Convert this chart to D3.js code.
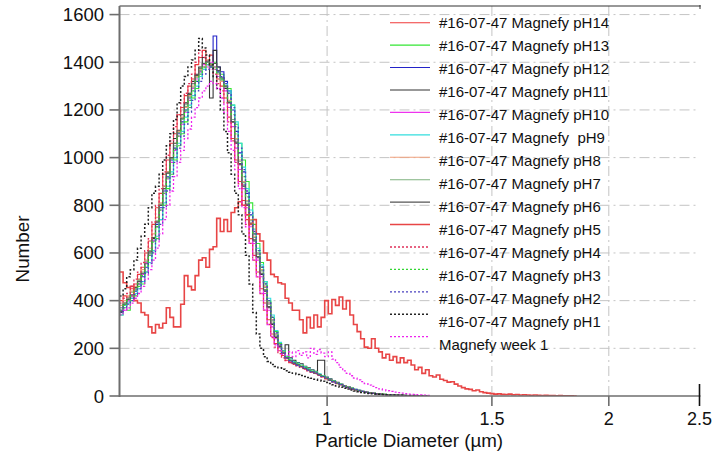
<!DOCTYPE html>
<html><head><meta charset="utf-8">
<script src="https://cdn.jsdelivr.net/npm/d3@7"></script>
<style>body{margin:0;background:#fff} svg{display:block}</style>
</head><body><svg id="c" width="728" height="456"></svg>
<script>
// ---- data ----
const binStart = 0.6;          // µm, first histogram bin edge
const binLogWidth = 0.003847;  // log10 width of each bin
const xTicks = [1, 1.5, 2, 2.5];
const xGrid = [1, 1.5, 2];
const yTicks = [0, 200, 400, 600, 800, 1000, 1200, 1400, 1600];
const seriesNames = ["#16-07-47 Magnefy pH14","#16-07-47 Magnefy pH13","#16-07-47 Magnefy pH12","#16-07-47 Magnefy pH11","#16-07-47 Magnefy pH10","#16-07-47 Magnefy  pH9","#16-07-47 Magnefy pH8","#16-07-47 Magnefy pH7","#16-07-47 Magnefy pH6","#16-07-47 Magnefy pH5","#16-07-47 Magnefy pH4","#16-07-47 Magnefy pH3","#16-07-47 Magnefy pH2","#16-07-47 Magnefy pH1","Magnefy week 1"];

const pH14 = [400,420,415,450,470,510,540,600,650,720, 790,850,930,990,1060,1100,1180,1210,1260,1300, 1330,1390,1420,1450,1400,1430,1380,1330,1300,1250, 1170,1080,990,900,820,740,660,590,520,450, 390,320,260,220,190,170,150,140,135,128, 122,115,108,100,95,88,80,72,66,60, 52,47,41,36,31,26,22,19,16,13, 11,9,8,6,5,5,4,3,3,2, 2,2,1,1,1,0];
const pH13 = [340,370,360,400,420,460,470,520,560,610, 660,740,800,870,930,990,1050,1100,1150,1210, 1250,1290,1340,1370,1390,1380,1400,1360,1350,1300, 1290,1220,1140,1060,990,900,810,720,640,560, 480,400,330,270,220,190,165,150,140,132, 126,118,110,104,98,90,84,76,68,62, 55,49,43,37,32,27,23,19,16,14, 11,9,8,7,6,5,4,3,3,2, 2,2,1,1,1,0];
const pH12 = [360,380,400,410,440,470,500,540,590,650, 720,790,860,920,990,1040,1100,1150,1200,1250, 1290,1320,1360,1380,1400,1390,1510,1380,1360,1320, 1280,1200,1110,1020,940,850,760,680,600,530, 460,390,320,260,215,185,160,148,138,130, 124,116,110,102,96,90,82,75,68,60, 54,48,42,36,31,27,23,19,16,13, 11,9,8,6,5,5,4,3,3,2, 2,1,1,1,1,0];
const pH11 = [350,390,410,420,450,490,510,560,600,660, 730,800,880,940,1000,1080,1110,1180,1230,1270, 1320,1350,1380,1420,1400,1250,1450,1380,1330,1290, 1230,1150,1060,970,880,800,720,650,580,510, 440,370,300,245,205,190,215,160,150,140, 135,125,118,110,104,150,150,80,72,64, 57,50,44,38,33,28,24,20,17,14, 12,10,8,7,6,5,4,3,3,2, 2,2,1,1,1,0];
const pH10 = [370,360,400,420,450,470,510,560,590,650, 710,780,850,910,980,1030,1090,1140,1190,1240, 1290,1330,1360,1390,1380,1400,1380,1340,1330,1280, 1210,1130,1040,950,870,790,710,640,570,500, 430,360,290,240,205,178,158,146,138,130, 124,116,110,102,96,90,82,75,68,60, 54,48,42,36,31,27,23,19,16,13, 11,9,8,6,5,5,4,3,3,2, 2,1,1,1,1,0];
const pH9 = [340,380,390,410,430,450,480,520,560,610, 670,740,810,880,940,1000,1060,1110,1170,1220, 1260,1300,1340,1370,1390,1380,1370,1360,1330,1310, 1280,1220,1150,1060,960,870,780,700,620,550, 480,410,340,275,225,190,168,155,145,138, 130,122,115,108,100,93,86,78,70,63, 56,50,44,38,33,28,24,20,17,14, 12,10,8,7,6,5,4,3,3,2, 2,2,1,1,1,0];
const pH8 = [380,400,420,440,460,490,530,570,620,680, 750,810,880,940,1000,1060,1110,1170,1210,1260, 1300,1340,1370,1380,1410,1390,1370,1350,1320,1300, 1240,1160,1080,990,900,820,740,670,600,530, 460,390,320,260,215,185,162,150,140,133, 126,118,111,104,98,90,83,76,68,61, 55,49,43,37,32,27,23,19,16,13, 11,9,8,7,6,5,4,3,3,2, 2,2,1,1,1,0];
const pH7 = [370,390,410,435,450,485,520,565,610,665, 735,805,870,935,995,1050,1105,1160,1215,1255, 1295,1335,1365,1395,1400,1395,1380,1355,1325,1295, 1235,1160,1075,985,895,815,735,665,595,525, 455,385,315,255,212,183,161,149,139,132, 125,117,110,103,97,89,82,75,67,60, 54,48,42,37,32,27,23,19,16,13, 11,9,8,6,5,5,4,3,3,2, 2,2,1,1,1,0];
const pH6 = [355,385,405,425,455,480,515,555,605,665, 730,800,870,935,1000,1060,1115,1165,1225,1265, 1310,1345,1375,1395,1405,1385,1395,1365,1335,1300, 1230,1150,1065,975,885,805,725,655,585,515, 445,375,305,248,208,180,160,148,138,131, 124,116,109,102,96,89,82,75,67,60, 54,48,42,36,31,27,23,19,16,13, 11,9,8,6,5,5,4,3,3,2, 2,2,1,1,1,0];
const pH5 = [520,475,455,460,400,390,350,340,290,265, 300,285,305,370,330,290,290,385,505,460, 445,505,570,580,540,615,626,745,690,740, 690,770,790,815,800,760,720,740,680,650, 600,570,510,500,475,470,410,390,360,360, 320,265,330,285,340,290,330,400,345,405, 380,415,365,400,340,300,270,240,205,200, 240,200,185,160,175,150,165,140,160,140, 150,130,110,120,95,110,85,80,88,70, 65,58,60,50,42,35,30,28,22,25, 18,14,12,10,8,9,7,6,8,5, 6,4,5,4,3,4,3,2,3,2, 2,1,2,1,1,1,0];
const pH4 = [390,410,430,460,490,520,560,610,660,730, 800,870,940,1010,1070,1130,1180,1230,1270,1310, 1350,1400,1450,1420,1390,1370,1350,1310,1280,1230, 1150,1070,980,890,800,720,640,570,500,430, 360,300,245,205,178,160,148,140,133,127, 120,113,106,100,94,87,80,73,66,60, 53,47,41,36,31,26,22,19,16,13, 11,9,8,6,5,5,4,3,3,2, 2,2,1,1,1,0];
const pH3 = [360,380,400,420,445,470,505,545,590,645, 710,780,850,915,975,1035,1090,1145,1195,1240, 1280,1320,1350,1380,1395,1390,1375,1355,1330,1300, 1250,1180,1100,1010,920,835,755,680,610,540, 470,400,330,268,220,188,165,152,142,135, 128,120,113,106,99,92,85,77,69,62, 55,49,43,37,32,27,23,19,16,14, 11,9,8,7,6,5,4,3,3,2, 2,2,1,1,1,0];
const pH2 = [350,370,385,400,425,450,480,515,555,600, 655,720,790,860,920,980,1040,1090,1140,1190, 1240,1280,1320,1350,1370,1380,1370,1360,1340,1310, 1270,1210,1130,1040,950,860,770,690,610,540, 470,400,330,265,215,182,160,148,138,130, 123,116,109,102,96,89,82,75,67,60, 54,48,42,36,31,27,23,19,16,13, 11,9,8,6,5,5,4,3,3,2, 2,2,1,1,1,0];
const pH1 = [420,450,500,530,570,620,670,720,790,850, 880,930,990,1050,1100,1160,1230,1300,1340,1380, 1410,1450,1500,1460,1430,1390,1340,1290,1200,1110, 1020,930,850,760,680,590,470,350,260,200, 165,145,132,124,118,112,106,100,95,90, 86,82,78,74,70,66,62,57,52,47, 42,37,33,29,25,21,18,15,13,11, 9,8,7,6,5,4,4,3,3,2, 2,2,1,1,1,0];
const week1 = [340,360,370,390,410,430,460,490,530,570, 620,680,740,800,860,920,980,1030,1080,1120, 1170,1210,1250,1280,1300,1320,1310,1290,1250,1190, 1110,1030,950,870,790,710,640,570,500,430, 360,300,250,215,190,175,170,185,165,190, 170,185,160,200,175,195,180,165,185,155, 140,120,105,95,85,75,68,60,52,46, 40,35,30,26,22,19,16,14,12,10, 8,7,6,5,4,3];

const seriesValues = [pH14,pH13,pH12,pH11,pH10,pH9,pH8,pH7,pH6,pH5,pH4,pH3,pH2,pH1,week1];

// ---- styles ----
const seriesStyle = [
  {c:"#f03a3a", w:1.1, d:null},
  {c:"#33e633", w:1.1, d:null},
  {c:"#2323c8", w:1.1, d:null},
  {c:"#333333", w:1.1, d:null},
  {c:"#ee33ee", w:1.1, d:null},
  {c:"#33dede", w:1.1, d:null},
  {c:"#f0a07c", w:1.1, d:null},
  {c:"#7fb27f", w:1.1, d:null},
  {c:"#555555", w:1.1, d:null},
  {c:"#e84545", w:1.6, d:null},
  {c:"#e0305a", w:1.3, d:"2,2"},
  {c:"#33d633", w:1.3, d:"2,2"},
  {c:"#4a42c0", w:1.3, d:"2,2"},
  {c:"#222222", w:1.5, d:"2,2"},
  {c:"#ee22ee", w:1.3, d:"2,2"}
];

const svg = d3.select("#c");
const font = "'Liberation Sans', Arial, Helvetica, sans-serif";
const L = 119.5, R = 699.5, T = 6, B = 396;

const x = d3.scaleLog().domain([0.6, 2.5]).range([L, R]);
const y = d3.scaleLinear().domain([0, 1636]).range([B, T]);

svg.append("rect").attr("width",728).attr("height",456).attr("fill","#fff");

// grid
const gridDash = "10,4,2,4";
svg.append("g").selectAll("line").data(yTicks.filter(v=>v>0)).join("line")
  .attr("x1", L).attr("x2", R).attr("y1", d=>y(d)).attr("y2", d=>y(d))
  .attr("stroke","#c4c4c4").attr("stroke-width",1).attr("stroke-dasharray",gridDash);
svg.append("g").selectAll("line").data(xGrid).join("line")
  .attr("x1", d=>x(d)).attr("x2", d=>x(d)).attr("y1", T).attr("y2", B)
  .attr("stroke","#c4c4c4").attr("stroke-width",1).attr("stroke-dasharray",gridDash);

// clip
svg.append("clipPath").attr("id","clip").append("rect")
  .attr("x", L).attr("y", T).attr("width", R-L).attr("height", B-T);

const edge = i => binStart * Math.pow(10, i*binLogWidth);
const line = d3.line().x(p=>x(p[0])).y(p=>y(p[1])).curve(d3.curveStepAfter);

const plot = svg.append("g").attr("clip-path","url(#clip)");
seriesValues.forEach((vals, k) => {
  const pts = vals.map((v,i)=>[edge(i), v]);
  pts.push([edge(vals.length), 0]);
  const s = seriesStyle[k];
  plot.append("path").attr("d", line(pts)).attr("fill","none")
    .attr("stroke", s.c).attr("stroke-width", s.w)
    .attr("stroke-dasharray", s.d);
});

// axes frame
svg.append("line").attr("x1",L).attr("x2",R+1).attr("y1",T).attr("y2",T).attr("stroke","#333").attr("stroke-width",1.2);
svg.append("line").attr("x1",R+0.5).attr("x2",R+0.5).attr("y1",T-1).attr("y2",T+3).attr("stroke","#333").attr("stroke-width",1);
svg.append("line").attr("x1",L).attr("x2",L).attr("y1",T).attr("y2",B+1).attr("stroke","#6e6e6e").attr("stroke-width",2);
svg.append("line").attr("x1",L).attr("x2",R+1).attr("y1",B).attr("y2",B).attr("stroke","#6e6e6e").attr("stroke-width",1.6);

// y ticks
const yAxisG = svg.append("g");
yAxisG.selectAll("line").data(yTicks).join("line")
  .attr("x1", L-10).attr("x2", L).attr("y1", d=>y(d)).attr("y2", d=>y(d))
  .attr("stroke","#6e6e6e").attr("stroke-width",1.6);
yAxisG.selectAll("text").data(yTicks).join("text")
  .attr("x", 104).attr("y", d=>y(d)+6.5).attr("text-anchor","end")
  .attr("font-family",font).attr("font-size",18.5).attr("fill","#111").text(d=>d);

// x ticks
const xAxisG = svg.append("g");
xAxisG.selectAll("line").data(xTicks).join("line")
  .attr("x1", d=>x(d)).attr("x2", d=>x(d))
  .attr("y1", d=> d===2.5 ? 384 : B).attr("y2", 406)
  .attr("stroke", d=> d===2.5 ? "#111" : "#6e6e6e").attr("stroke-width",1.6);
xAxisG.selectAll("text").data(xTicks).join("text")
  .attr("x", d=>x(d)).attr("y", 424.5).attr("text-anchor","middle")
  .attr("font-family",font).attr("font-size",18).attr("fill","#111").text(d=>d);

// titles
svg.append("text").attr("x", 409).attr("y", 447).attr("text-anchor","middle")
  .attr("font-family",font).attr("font-size",18.8).attr("fill","#111").text("Particle Diameter (µm)");
svg.append("text").attr("transform","translate(29,249) rotate(-90)").attr("text-anchor","middle")
  .attr("font-family",font).attr("font-size",18.8).attr("fill","#111").text("Number");

// legend
const leg = svg.append("g");
seriesNames.forEach((name,k)=>{
  const s = seriesStyle[k];
  const ly = 22.7 + 22.43*k;
  const ty = 22.7 + 22.97*k;
  leg.append("line").attr("x1",390).attr("x2",430).attr("y1",ly).attr("y2",ly)
    .attr("stroke",s.c).attr("stroke-width", s.w).attr("stroke-dasharray", s.d);
  leg.append("text").attr("x",439).attr("y",ty+5.3).attr("font-family",font)
    .attr("font-size",15).attr("fill","#111").style("white-space","pre").text(name);
});
</script></body></html>
